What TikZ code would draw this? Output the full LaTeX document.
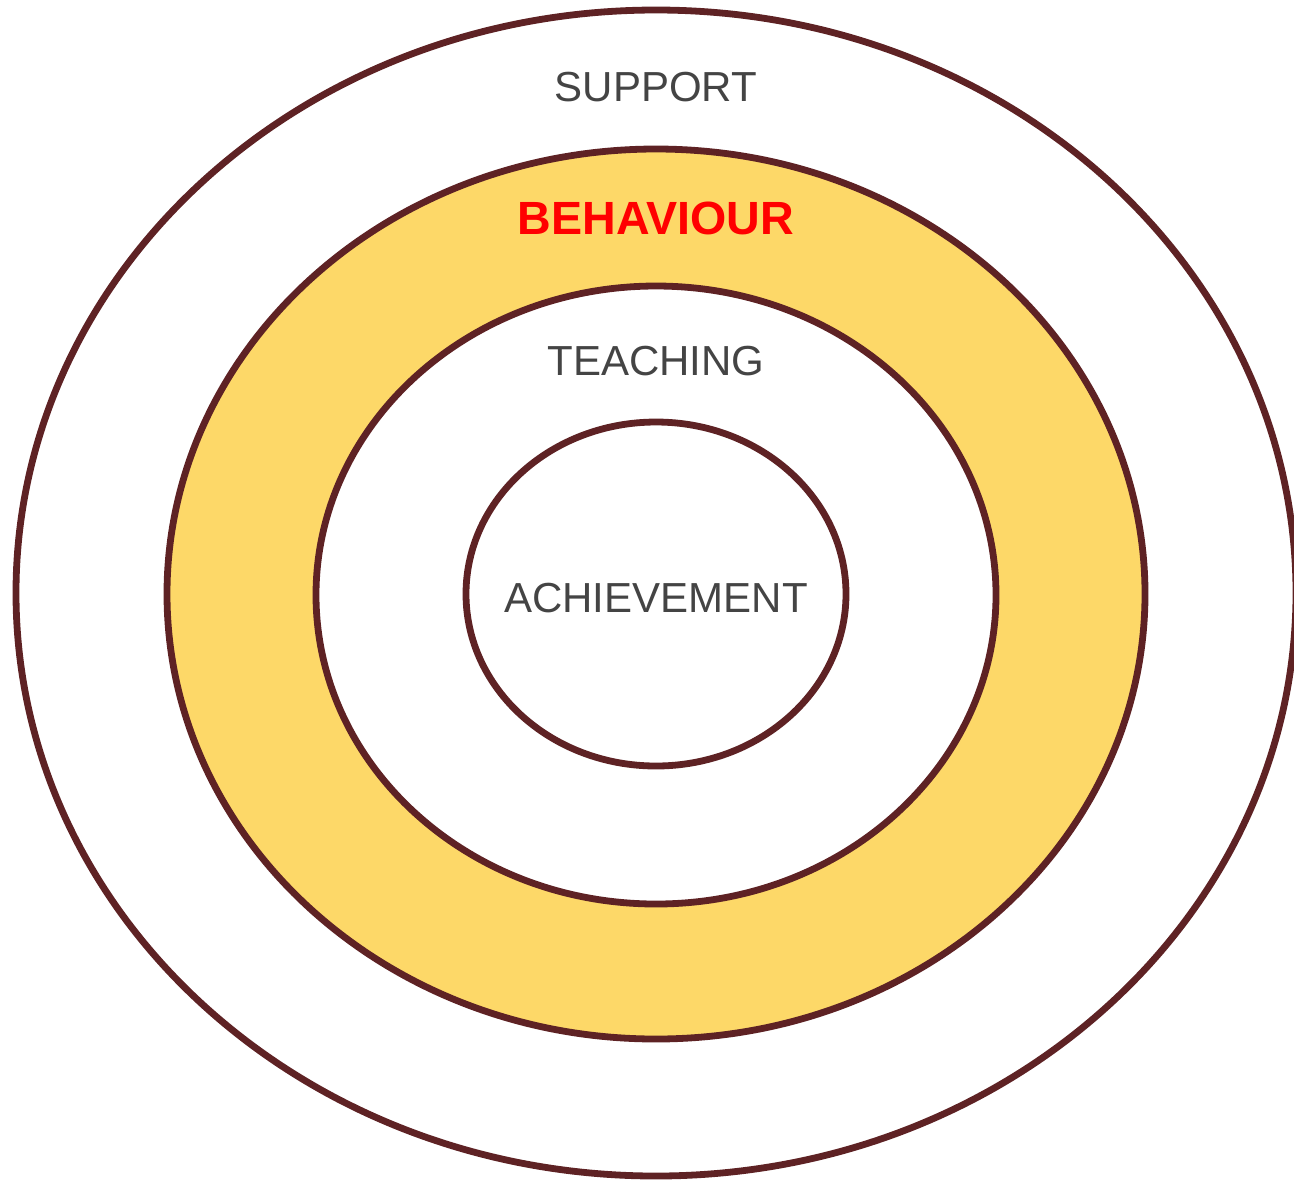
\documentclass[tikz,border=0pt]{standalone}
\usepackage{fontspec}
\setmainfont{Liberation Sans}
\usepackage{tikz}

\definecolor{ringline}{HTML}{5E2224}
\definecolor{ringfill}{HTML}{FDD868}
\definecolor{labelgray}{HTML}{444444}

\begin{document}
\begin{tikzpicture}[x = 0.5pt, y = -0.5pt,
		ring/.style = {draw = ringline, line width = 3.4pt},
		lab/.style = {anchor = base, inner sep = 0pt, text = labelgray, font = \fontsize{21}{25}\selectfont}]
	
		\useasboundingbox (0, 0) rectangle (1294, 1180);
		
		\draw[ring, fill = white] (656, 593) ellipse [x radius = 640, y radius = 583];
		\draw[ring, fill = ringfill] (656, 594) ellipse [x radius = 489, y radius = 445];
		\draw[ring, fill = white] (656, 595) ellipse [x radius = 340, y radius = 309];
		\draw[ring, fill = white] (656, 594) ellipse [x radius = 190, y radius = 172];
		
		\node[lab] (support) at (656, 101) {SUPPORT};
		\node[lab, text = red, font = \fontsize{23.3}{27}\selectfont\bfseries] (behaviour) at (656, 234) {BEHAVIOUR};
		\node[lab] (teaching) at (656, 375) {TEACHING};
		\node[lab] (achievement) at (656, 612) {ACHIEVEMENT};
	\end{tikzpicture}
\end{document}
